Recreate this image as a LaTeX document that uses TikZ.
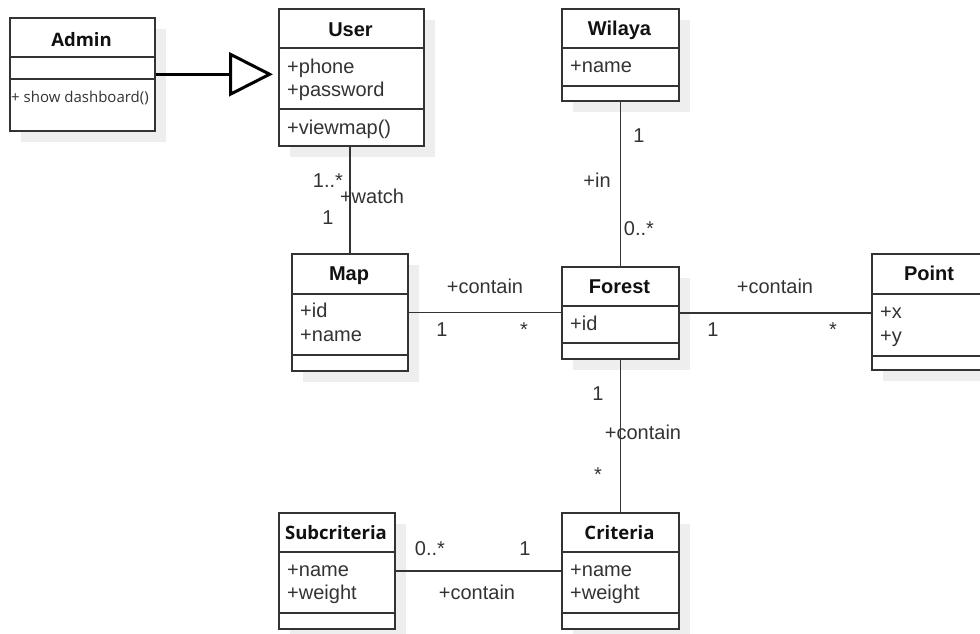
\documentclass[tikz,border=0pt]{standalone}
\usepackage{fontspec}
\setmainfont{Liberation Sans}
\newfontfamily\osans{Open Sans}
\usetikzlibrary{arrows.meta,shadows}
\definecolor{ink}{HTML}{333333}
\definecolor{inkd}{HTML}{111111}
\definecolor{shade}{HTML}{EEEEEE}
\begin{document}
\begin{tikzpicture}[x=1pt,y=-1pt,
 cls/.style={draw=ink, line width=1.5pt, fill=white, inner sep=0pt, anchor=north west,
   drop shadow={shadow xshift=11pt, shadow yshift=-11pt, fill=shade, opacity=1}},
 ttl/.style={anchor=base, inner sep=0pt, text=inkd, font=\fontsize{20}{24}\selectfont\bfseries},
 ottl/.style={anchor=base, inner sep=0pt, text=inkd, font=\osans\fontsize{18.5}{22}\selectfont\bfseries},
 att/.style={anchor=base west, inner sep=0pt, text=ink, font=\fontsize{20}{24}\selectfont},
 lbl/.style={anchor=base, inner sep=0pt, text=ink, font=\fontsize{20}{24}\selectfont},
 div/.style={draw=ink, line width=1.5pt},
 con/.style={draw=ink, line width=1.5pt}]
\useasboundingbox (0,0) rectangle (980,633);

% class boxes
\node[cls, minimum width=145pt, minimum height=113pt] (admin) at (9,17) {};
\node[cls, minimum width=145pt, minimum height=137pt] (user) at (278,8) {};
\node[cls, minimum width=117pt, minimum height=92pt] (wilaya) at (561,8) {};
\node[cls, minimum width=116pt, minimum height=117pt] (map) at (291,253) {};
\node[cls, minimum width=117pt, minimum height=92pt] (forest) at (561,266) {};
\node[cls, minimum width=116pt, minimum height=116pt] (point) at (871,253) {};
\node[cls, minimum width=116pt, minimum height=116pt] (sub) at (278,512) {};
\node[cls, minimum width=117pt, minimum height=116pt] (crit) at (561,512) {};

% dividers
\foreach \n/\a/\b in {admin/57/79, user/48/109, wilaya/48/86, map/294/355, forest/306/343, point/294/356, sub/552/613, crit/552/613}{
  \draw[div] (\n.west |- 0,\a) -- (\n.east |- 0,\a);
  \draw[div] (\n.west |- 0,\b) -- (\n.east |- 0,\b);
}

% titles
\node[ottl] (tadmin) at (81.5,46) {Admin};
\node[ttl] (tuser) at (350.5,36) {User};
\node[ttl] (twilaya) at (619.5,35) {Wilaya};
\node[ttl] (tmap) at (349,280) {Map};
\node[ttl] (tforest) at (619.5,293) {Forest};
\node[ttl] (tpoint) at (929,280) {Point};
\node[ottl] (tsub) at (336,539) {Subcriteria};
\node[ottl] (tcrit) at (619.5,539) {Criteria};

% attributes / operations
\node[anchor=base west, inner sep=0pt, text=ink, font=\osans\fontsize{15}{18}\selectfont] (aadmin) at (11,102) {+ show dashboard()};
\node[att] (au1) at (287,73) {+phone};
\node[att] (au2) at (287,96) {+password};
\node[att] (au3) at (287,134) {+viewmap()};
\node[att] (aw1) at (570,72) {+name};
\node[att] (am1) at (300,317) {+id};
\node[att] (am2) at (300,341) {+name};
\node[att] (af1) at (570,330) {+id};
\node[att] (ap1) at (880,318) {+x};
\node[att] (ap2) at (880,342) {+y};
\node[att] (as1) at (287,576) {+name};
\node[att] (as2) at (287,599) {+weight};
\node[att] (ac1) at (570,576) {+name};
\node[att] (ac2) at (570,599) {+weight};

% generalization
\draw[draw=black, line width=3pt, -{Triangle[open, length=44pt, width=44pt, fill=white]}]
  (admin.east) -- ([xshift=-5pt]user.west |- admin.east);

% associations
\draw[con] (user.south -| map.north) -- (map.north);
\draw[con] (map.east) -- (forest.west |- map.east);
\draw[con] (forest.east) -- (point.west |- forest.east);
\draw[con] (wilaya.south) -- (forest.north);
\draw[con] (forest.south) -- (crit.north);
\draw[con] (sub.east) -- (crit.west);

% association labels
\node[lbl] (l1) at (328,187) {1..*};
\node[lbl] (l2) at (372,203) {+watch};
\node[lbl] (l3) at (328,224) {1};
\node[lbl] (l4) at (485,293) {+contain};
\node[lbl] (l5) at (442,336) {1};
\node[lbl] (l6) at (524,336) {*};
\node[lbl] (l7) at (639,142) {1};
\node[lbl] (l8) at (597,187) {+in};
\node[lbl] (l9) at (639,235) {0..*};
\node[lbl] (l10) at (775,293) {+contain};
\node[lbl] (l11) at (713,336) {1};
\node[lbl] (l12) at (833,336) {*};
\node[lbl] (l13) at (598,400) {1};
\node[lbl] (l14) at (643,439) {+contain};
\node[lbl] (l15) at (598,481) {*};
\node[lbl] (l16) at (430,555) {0..*};
\node[lbl] (l17) at (525,555) {1};
\node[lbl] (l18) at (477,599) {+contain};
\end{tikzpicture}
\end{document}
